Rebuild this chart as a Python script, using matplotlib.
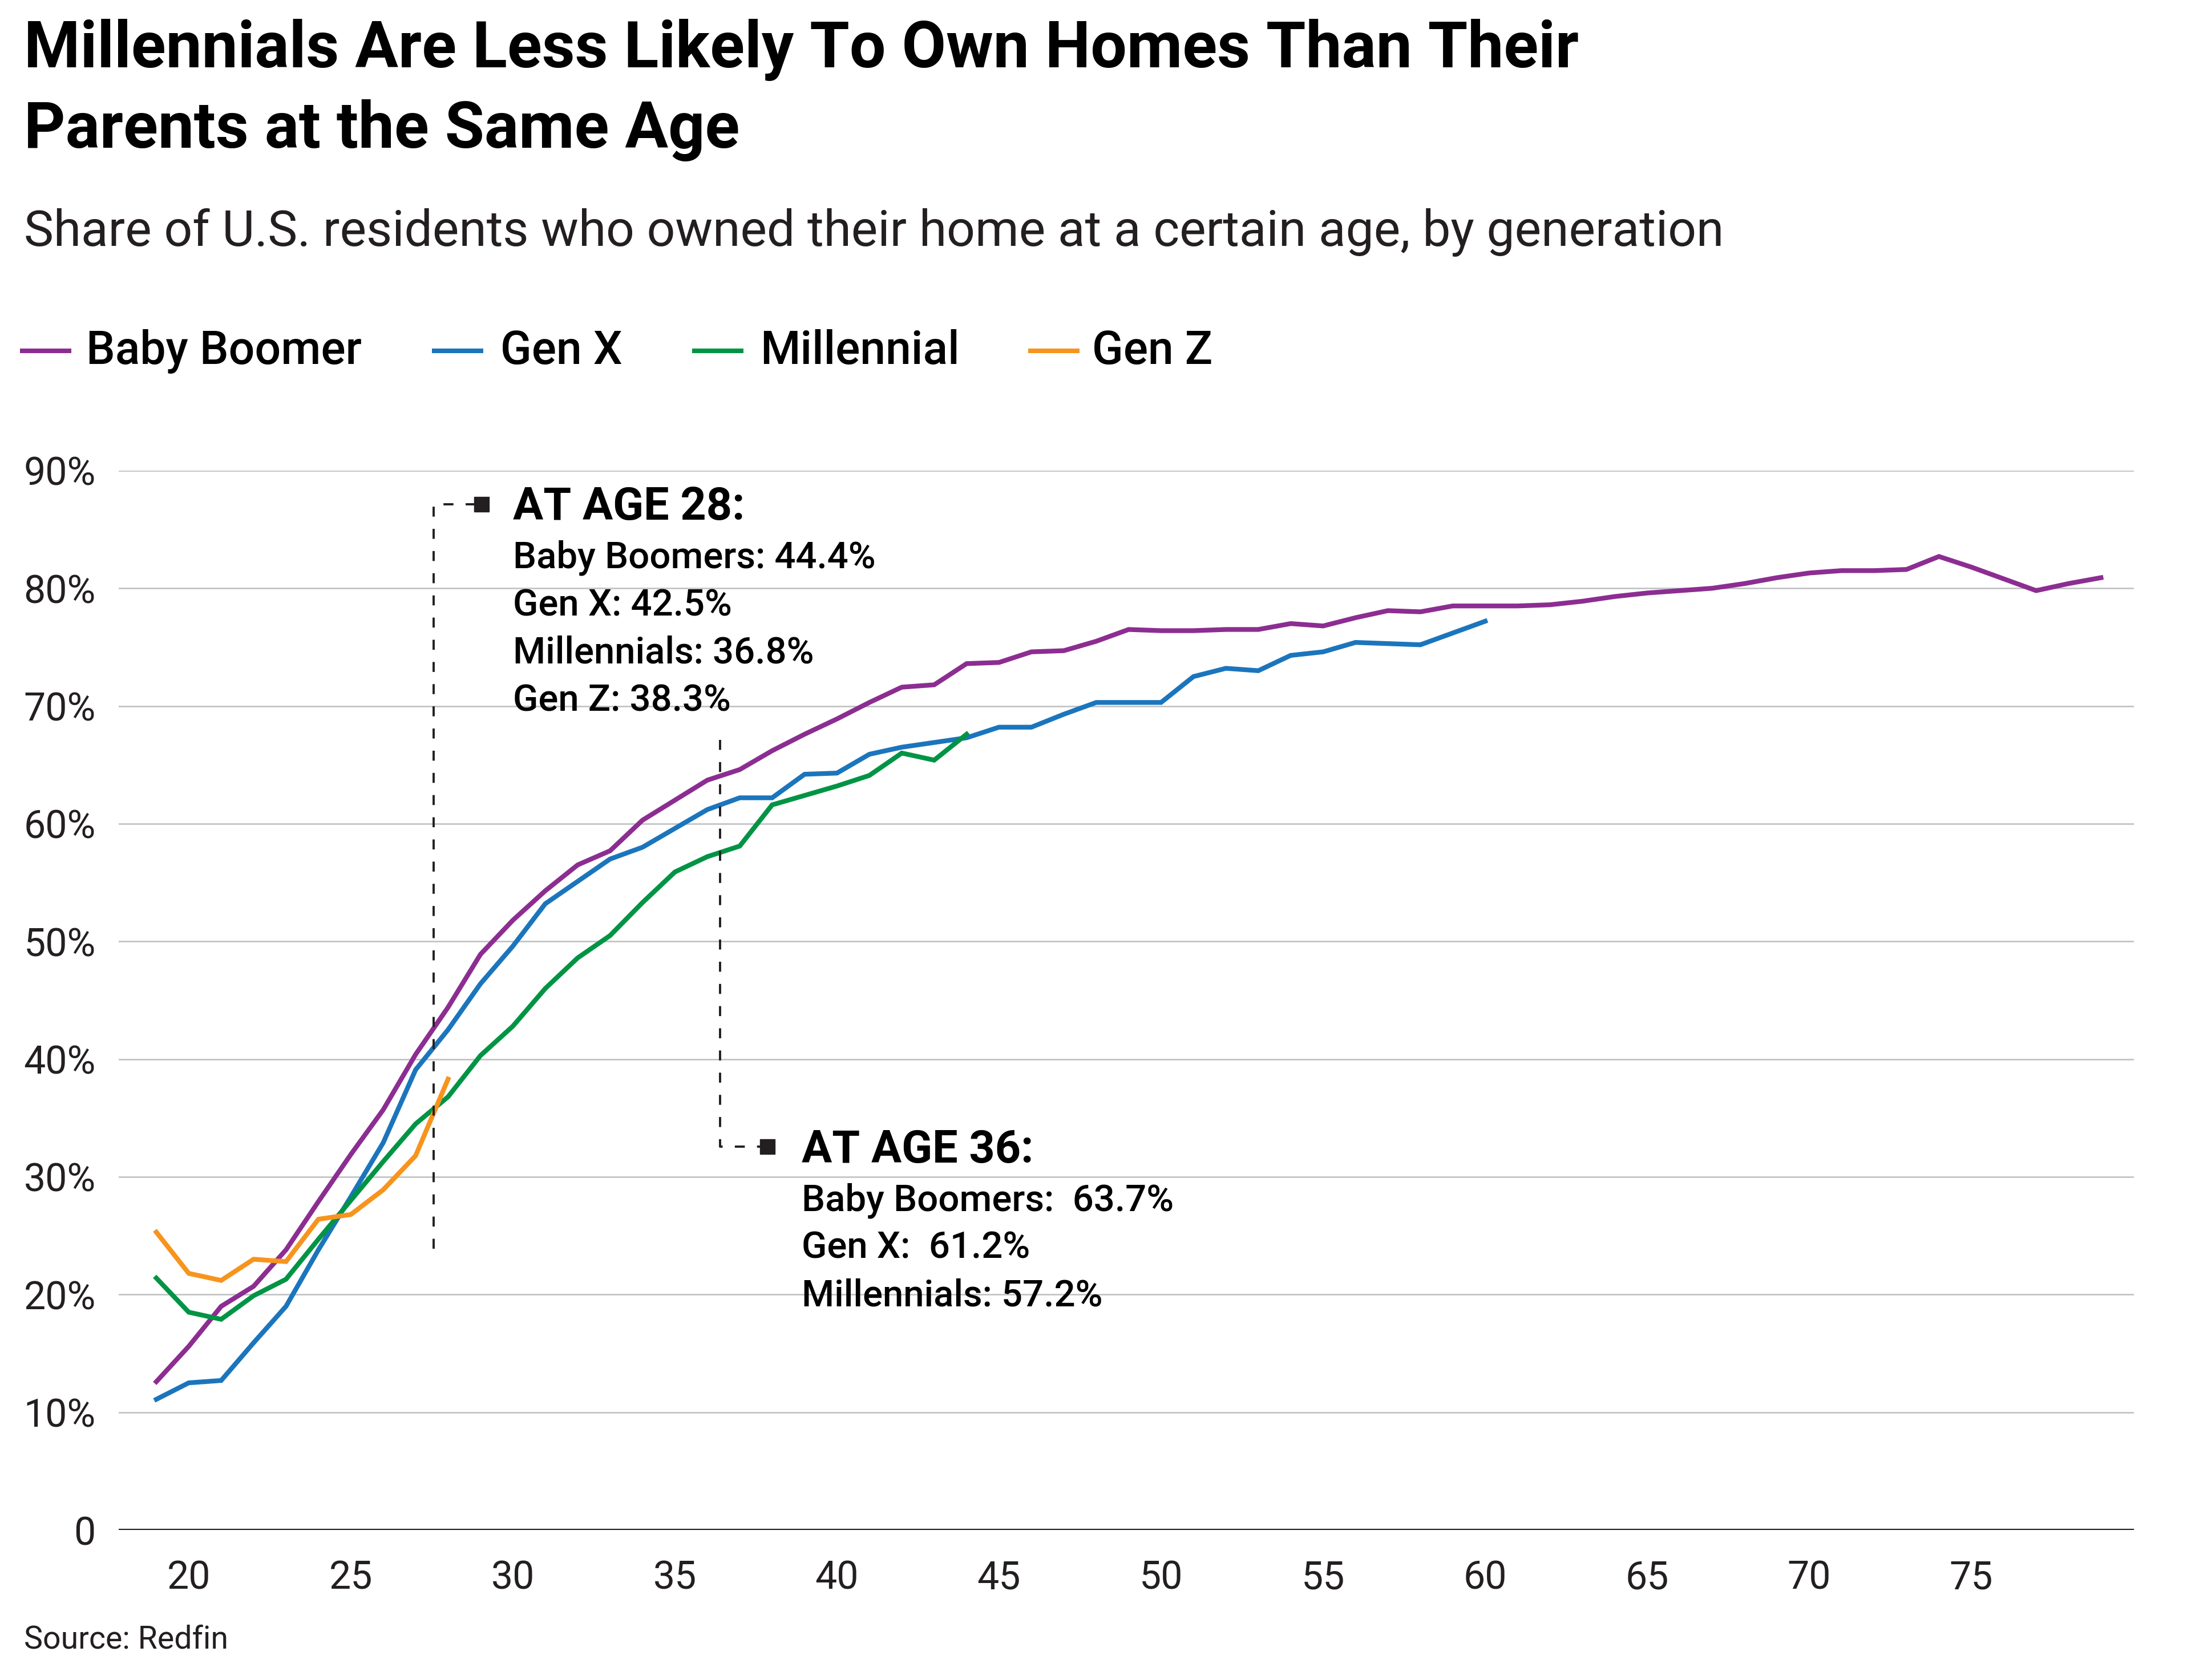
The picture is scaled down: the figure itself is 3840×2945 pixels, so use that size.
import matplotlib.pyplot as plt
from matplotlib.lines import Line2D

plt.rcParams['font.family'] = ['Roboto', 'DejaVu Sans']

# share of residents owning their home (%), by age
boomer_age = list(range(19, 80))
boomer = [12.6, 15.6, 19.0, 20.7, 23.8, 27.9, 31.9, 35.7, 40.4, 44.4,
          48.9, 51.8, 54.3, 56.5, 57.7, 60.3, 62.0, 63.7, 64.6, 66.2,
          67.6, 68.9, 70.3, 71.6, 71.8, 73.6, 73.7, 74.6, 74.7, 75.5,
          76.5, 76.4, 76.4, 76.5, 76.5, 77.0, 76.8, 77.5, 78.1, 78.0,
          78.5, 78.5, 78.5, 78.6, 78.9, 79.3, 79.6, 79.8, 80.0, 80.4,
          80.9, 81.3, 81.5, 81.5, 81.6, 82.7, 81.8, 80.8, 79.8, 80.4,
          80.9]

genx_age = list(range(19, 61))
genx = [11.1, 12.5, 12.7, 15.9, 19.0, 23.8, 28.3, 32.9, 39.1, 42.5,
        46.4, 49.6, 53.2, 55.1, 57.0, 58.0, 59.6, 61.2, 62.2, 62.2,
        64.2, 64.3, 65.9, 66.5, 66.9, 67.3, 68.2, 68.2, 69.3, 70.3,
        70.3, 70.3, 72.5, 73.2, 73.0, 74.3, 74.6, 75.4, 75.3, 75.2,
        76.2, 77.2]

millennial_age = list(range(19, 45))
millennial = [21.4, 18.5, 17.9, 19.9, 21.3, 24.7, 28.0, 31.3, 34.5, 36.8,
              40.3, 42.8, 46.0, 48.6, 50.5, 53.3, 55.9, 57.2, 58.1, 61.6,
              62.4, 63.2, 64.1, 66.0, 65.4, 67.6]

genz_age = list(range(19, 29))
genz = [25.3, 21.8, 21.2, 23.0, 22.8, 26.4, 26.8, 28.9, 31.8, 38.3]

names = ['Baby Boomer', 'Gen X', 'Millennial', 'Gen Z']
colors = ['#8C2D91', '#1B75BC', '#009444', '#F7941D']

x_ticks = [20, 25, 30, 35, 40, 45, 50, 55, 60, 65, 70, 75]
y_ticks = [0, 10, 20, 30, 40, 50, 60, 70, 80, 90]
y_labels = ['0', '10%', '20%', '30%', '40%', '50%', '60%', '70%', '80%', '90%']

note28_title = 'AT AGE 28:'
note28_lines = ['Baby Boomers: 44.4%', 'Gen X: 42.5%', 'Millennials: 36.8%', 'Gen Z: 38.3%']
note36_title = 'AT AGE 36:'
note36_lines = ['Baby Boomers:  63.7%', 'Gen X:  61.2%', 'Millennials: 57.2%']

ink = '#231f20'

fig = plt.figure(figsize=(38.4, 29.45), dpi=100)
ax = fig.add_axes([0.0542, 0.0893, 0.9198, 0.6306])

series = [(boomer_age, boomer), (genx_age, genx), (millennial_age, millennial), (genz_age, genz)]
for (xs, ys), c in zip(series, colors):
    ax.plot(xs, ys, color=c, lw=6, solid_joinstyle='miter', zorder=3)

ax.set_xlim(17.84, 80.02)
ax.set_ylim(0, 90)
ax.set_xticks(x_ticks)
ax.set_yticks(y_ticks)
ax.set_yticklabels(y_labels)
ax.tick_params(axis='both', length=0, labelsize=49, colors=ink)
ax.tick_params(axis='x', pad=37)
ax.tick_params(axis='y', pad=29)
ax.grid(axis='y', color='#bcbec0', lw=1.8)
ax.set_axisbelow(True)
for s in ax.spines.values():
    s.set_visible(False)
ax.axhline(0, color=ink, lw=3, zorder=2)

# annotation leaders
dash = dict(color=ink, lw=2.8, linestyle=(0, (4.5, 5.5)), zorder=4)
ax.plot([27.55, 27.55, 29.03], [23.9, 87.14, 87.14], **dash)
ax.plot([29.03], [87.14], 's', color=ink, ms=19, zorder=5)
ax.plot([36.39, 36.39, 37.86], [67.1, 32.56, 32.56], **dash)
ax.plot([37.86], [32.56], 's', color=ink, ms=19, zorder=5)

ax.text(30.0, 85.83, note28_title, fontsize=57, fontweight='bold', color='black', va='baseline')
for i, t in enumerate(note28_lines):
    ax.text(30.0, 81.74 - 4.06 * i, t, fontsize=47, fontweight='medium',
            color='black', va='baseline')
ax.text(38.91, 31.2, note36_title, fontsize=57, fontweight='bold', color='black', va='baseline')
for i, t in enumerate(note36_lines):
    ax.text(38.91, 27.13 - 4.06 * i, t, fontsize=47, fontweight='medium',
            color='black', va='baseline')

# titles
fig.text(0.0109, 1 - 118 / 2945, 'Millennials Are Less Likely To Own Homes Than Their',
         fontsize=81, fontweight='bold', color='black', va='baseline')
fig.text(0.0109, 1 - 259 / 2945, 'Parents at the Same Age',
         fontsize=81, fontweight='bold', color='black', va='baseline')
fig.text(0.0109, 1 - 431 / 2945,
         'Share of U.S. residents who owned their home at a certain age, by generation',
         fontsize=63, color='#231f20', va='baseline')

# legend
line_x = [35, 757, 1213, 1802]
text_x = [151, 877, 1332, 1914]
for lx, tx, name, c in zip(line_x, text_x, names, colors):
    fig.add_artist(Line2D([lx / 3840, (lx + 90) / 3840], [1 - 615 / 2945] * 2,
                          color=c, lw=5.8, solid_capstyle='butt'))
    fig.text(tx / 3840, 1 - 638 / 2945, name, fontsize=58, fontweight='medium',
             color='black', va='baseline')

fig.text(0.0109, 1 - 2890 / 2945, 'Source: Redfin', fontsize=40, color=ink, va='baseline')

fig.savefig('out.png', dpi=100, facecolor='white')
